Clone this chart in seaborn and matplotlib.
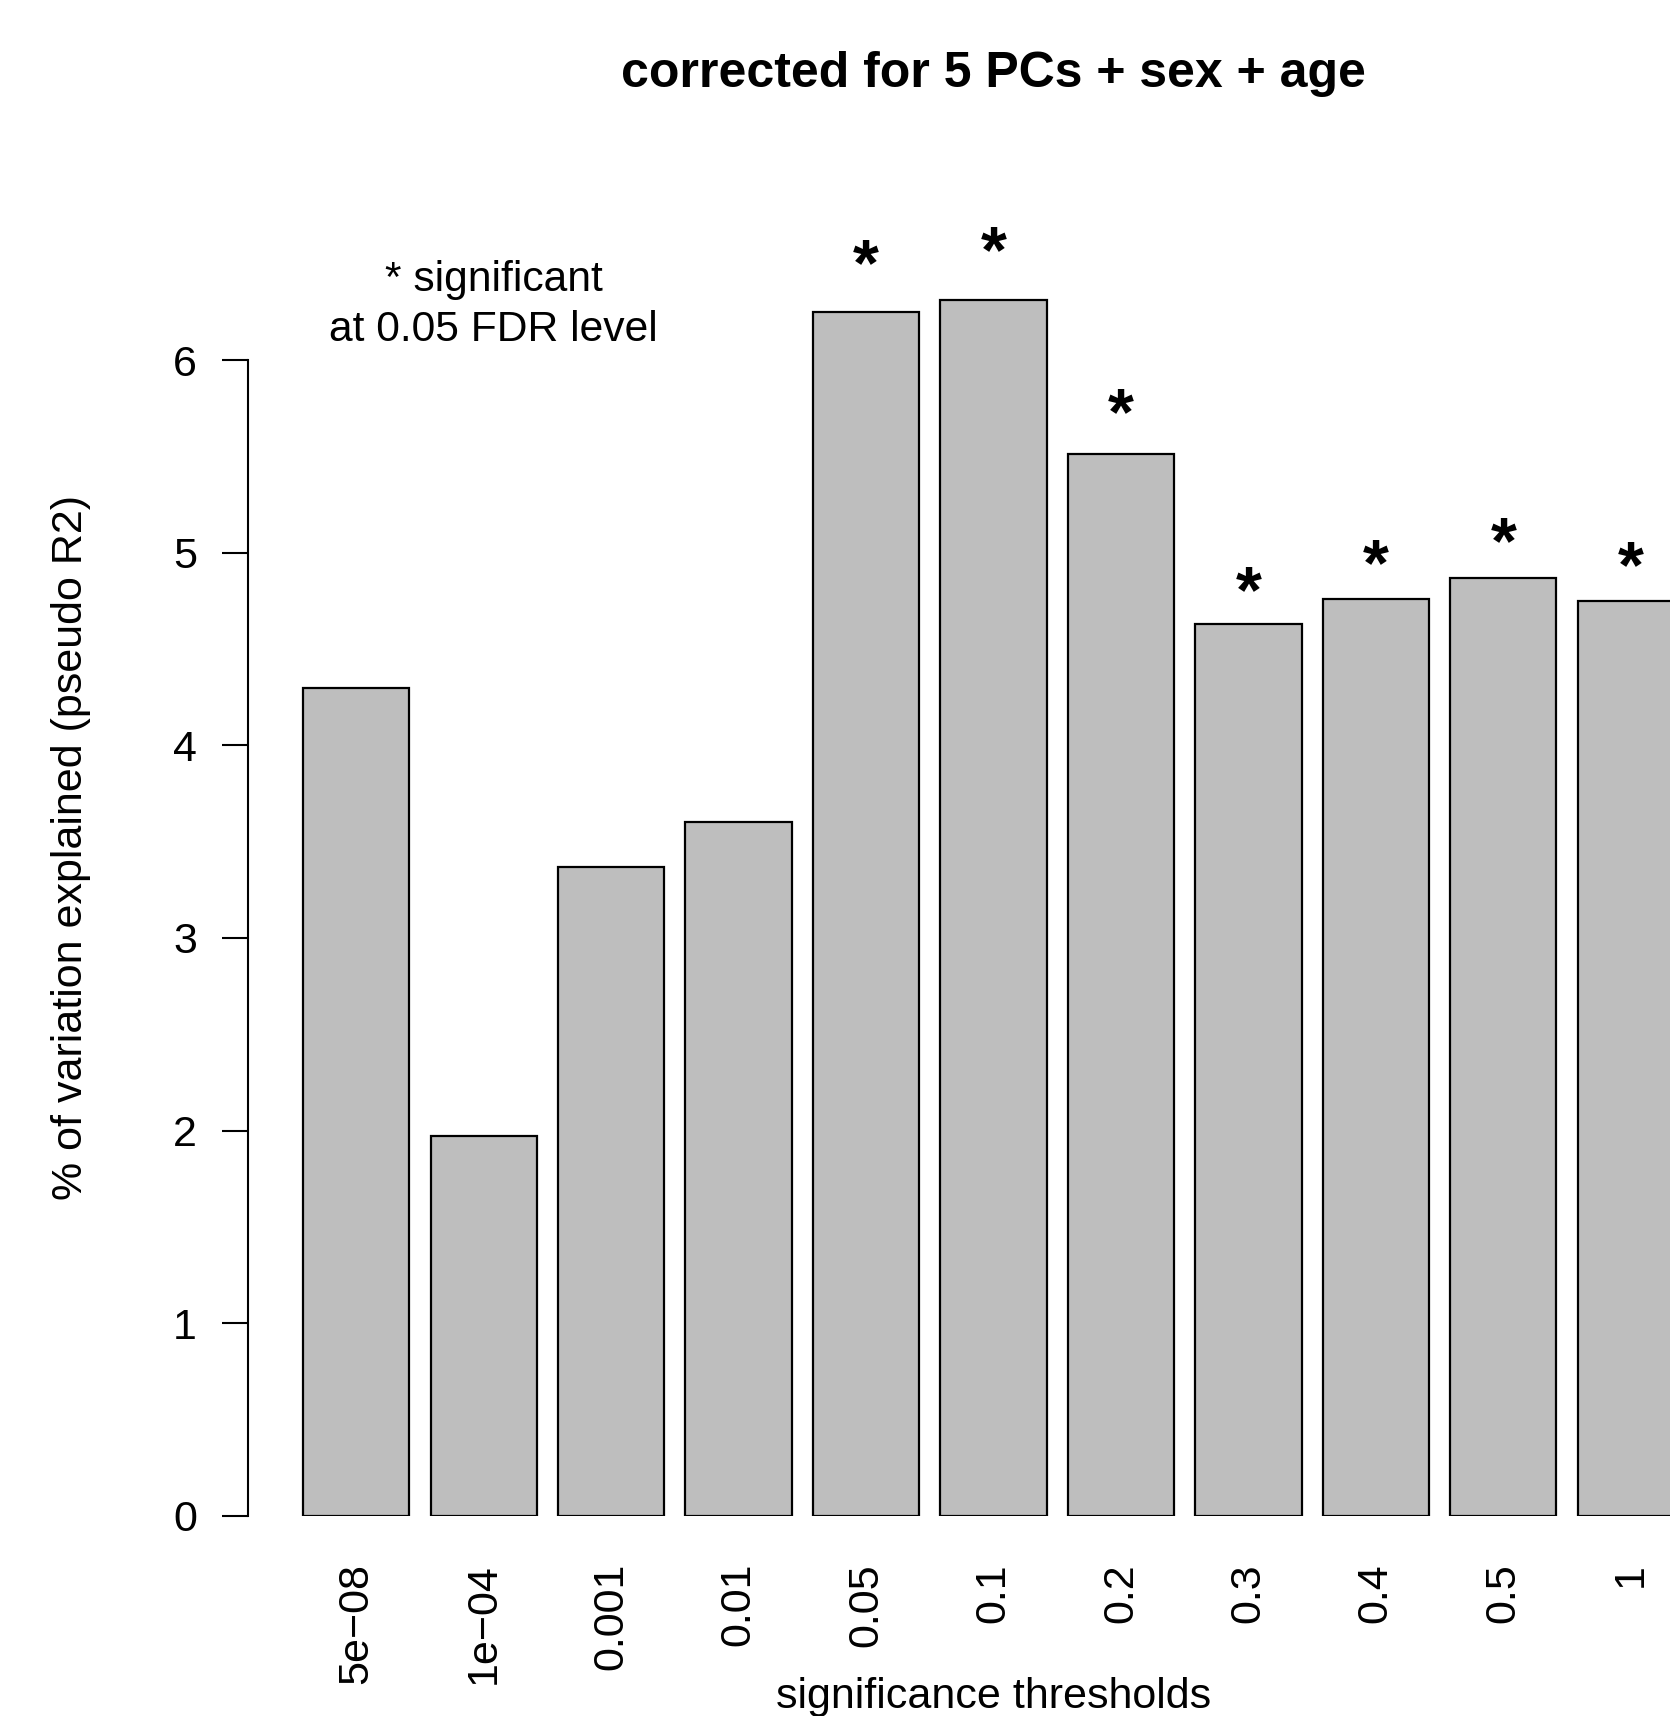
import numpy as np
import pandas as pd
import seaborn as sns
from matplotlib import pyplot as plt

thresholds = ['5e\u221208', '1e\u221204', '0.001', '0.01', '0.05', '0.1', '0.2', '0.3', '0.4', '0.5', '1']
pseudo_r2 = [4.30, 1.97, 3.37, 3.60, 6.25, 6.31, 5.51, 4.63, 4.76, 4.87, 4.75]
significant = [False, False, False, False, True, True, True, True, True, True, True]
yticks = [0, 1, 2, 3, 4, 5, 6]

sns.set_style('white', rc={'text.color': 'black', 'xtick.color': 'black', 'ytick.color': 'black',
                           'axes.labelcolor': 'black', 'ytick.left': True})
plt.rcParams['font.family'] = ['Liberation Sans', 'DejaVu Sans']

df = pd.DataFrame({'threshold': thresholds, 'r2': pseudo_r2})

fig = plt.figure(figsize=(16.7, 17.16), dpi=100)
# plot region runs past the right edge, like the cropped original
ax = fig.add_axes([0.1485, 0.1167, 0.8928, 0.7857])

sns.barplot(data=df, x='threshold', y='r2', order=thresholds, color='#bebebe',
            saturation=1, edgecolor='black', linewidth=1.6, width=1 / 1.2, ax=ax)

ax.set_xlim(-0.849, 10.849)
ax.set_ylim(0, 7)
for s in ['top', 'right', 'bottom']:
    ax.spines[s].set_visible(False)
ax.spines['left'].set_bounds(0, 6)
ax.spines['left'].set_linewidth(1.5)
ax.spines['left'].set_color('black')
ax.set_yticks(yticks)
ax.tick_params(axis='y', left=True, length=18.7, width=1.5, pad=18, labelsize=31, color='black')
ax.tick_params(axis='x', length=0, pad=34, labelsize=31, labelrotation=90)
ax.set_xlabel('')
ax.set_ylabel('')

# stars over significant bars
for i, (h, sig) in enumerate(zip(pseudo_r2, significant)):
    if sig:
        ax.annotate('*', xy=(i, h * 1.048), xytext=(0, -22), textcoords='offset points',
                    ha='center', va='baseline', fontsize=48, fontweight='bold',
                    annotation_clip=False)

ax.text(1.08, 6.285, '* significant\nat 0.05 FDR level', ha='center', va='center',
        fontsize=30.7, linespacing=1.32)

fig.text(0.595, 1 - 74 / 1716, 'corrected for 5 PCs + sex + age', ha='center', va='center',
         fontsize=36, fontweight='bold')
fig.text(0.595, 1 - 1697 / 1716, 'significance thresholds', ha='center', va='center', fontsize=31)
fig.text(71 / 1670, 1 - 848 / 1716, '% of variation explained (pseudo R2)', ha='center',
         va='center', rotation=90, fontsize=31)

fig.savefig('out.png', dpi=100)
